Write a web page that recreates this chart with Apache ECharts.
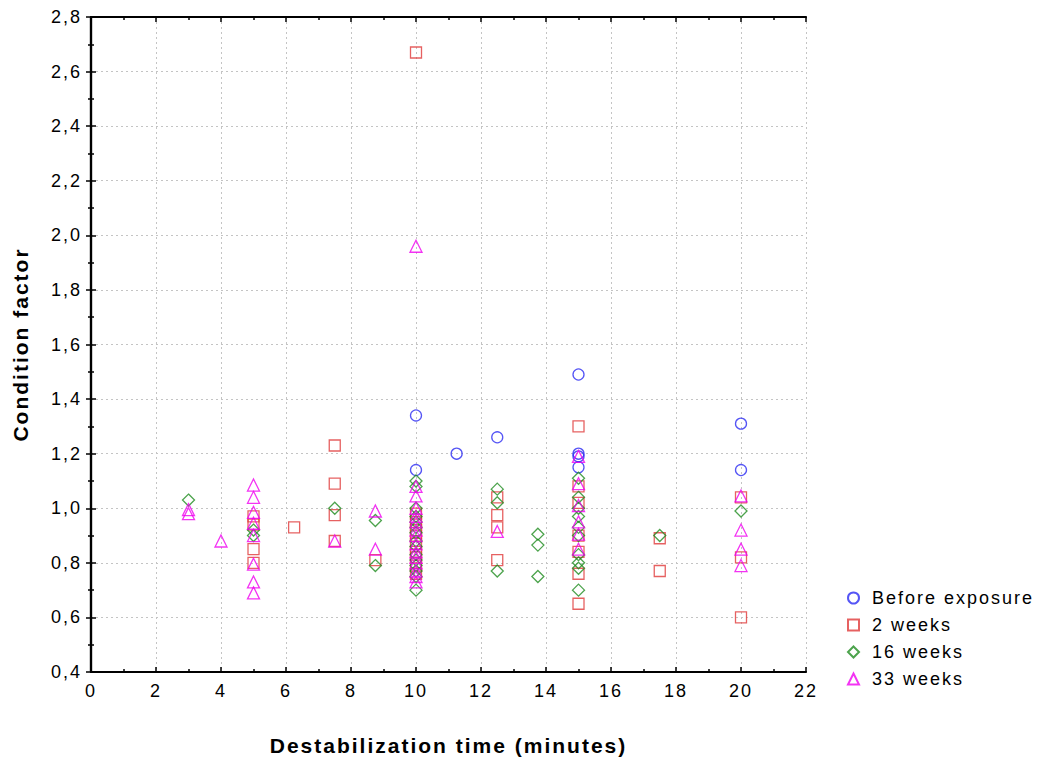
<!DOCTYPE html>
<html>
<head>
<meta charset="utf-8">
<script src="https://cdn.jsdelivr.net/npm/echarts@6/dist/echarts.min.js"></script>
<style>
  html, body { margin: 0; padding: 0; background: #fff; }
  #chart { width: 1042px; height: 767px; }
  /* widened glyph spacing for all chart text */
  #chart svg text { letter-spacing: 2px; }
</style>
</head>
<body>
<div id="chart"></div>
<script>
// Condition factor against destabilization time, four sampling groups
const seriesNames = ['Before exposure', '2 weeks', '16 weeks', '33 weeks'];

const beforeExposure = [
  [10, 1.34], [10, 1.14], [11.25, 1.20], [12.5, 1.26],
  [15, 1.49], [15, 1.20], [15, 1.19], [15, 1.15],
  [20, 1.31], [20, 1.14]
];

const weeks2 = [
  [5, 0.97], [5, 0.94], [5, 0.85], [5, 0.80], [6.25, 0.93],
  [7.5, 1.23], [7.5, 1.09], [7.5, 0.975], [7.5, 0.88], [8.75, 0.81],
  [10, 2.67], [10, 0.98], [10, 0.95], [10, 0.92], [10, 0.90], [10, 0.87],
  [10, 0.84], [10, 0.82], [10, 0.79], [10, 0.76],
  [12.5, 1.04], [12.5, 0.975], [12.5, 0.93], [12.5, 0.81],
  [15, 1.30], [15, 1.08], [15, 1.02], [15, 0.90], [15, 0.84], [15, 0.76], [15, 0.65],
  [17.5, 0.89], [17.5, 0.77],
  [20, 1.04], [20, 0.82], [20, 0.60]
];

const weeks16 = [
  [3, 1.03], [5, 0.92], [5, 0.90], [7.5, 1.00], [8.75, 0.955], [8.75, 0.79],
  [10, 1.10], [10, 1.08], [10, 1.00], [10, 0.97], [10, 0.95], [10, 0.93], [10, 0.91],
  [10, 0.88], [10, 0.86], [10, 0.83], [10, 0.81], [10, 0.79], [10, 0.77], [10, 0.75], [10, 0.70],
  [12.5, 1.07], [12.5, 1.02], [12.5, 0.77],
  [13.75, 0.905], [13.75, 0.865], [13.75, 0.75],
  [15, 1.11], [15, 1.04], [15, 1.00], [15, 0.97], [15, 0.93], [15, 0.90],
  [15, 0.83], [15, 0.80], [15, 0.78], [15, 0.70],
  [17.5, 0.90], [20, 0.99]
];

const weeks33 = [
  [3, 0.995], [3, 0.98], [4, 0.88],
  [5, 1.085], [5, 1.04], [5, 0.985], [5, 0.945], [5, 0.90], [5, 0.795], [5, 0.73], [5, 0.69],
  [7.5, 0.88], [8.75, 0.99], [8.75, 0.85],
  [10, 1.96], [10, 1.08], [10, 1.045], [10, 1.00], [10, 0.97], [10, 0.95], [10, 0.92],
  [10, 0.90], [10, 0.87], [10, 0.84], [10, 0.82], [10, 0.80], [10, 0.77], [10, 0.75], [10, 0.73],
  [12.5, 0.915],
  [15, 1.19], [15, 1.09], [15, 1.01], [15, 0.95], [15, 0.905], [15, 0.85],
  [20, 1.045], [20, 0.92], [20, 0.85], [20, 0.79]
];

const xRange = { min: 0, max: 22, interval: 2 };
const yRange = { min: 0.4, max: 2.8, interval: 0.2 };

const groups = [beforeExposure, weeks2, weeks16, weeks33];
const symbols = ['circle', 'rect', 'diamond', 'triangle'];
const colors = ['#2a2af2', '#e03a3a', '#1f8c1f', '#f000f0'];
const sizes = [11, 11, 12, 12];

const FONT = 'Liberation Sans, Arial, sans-serif';

const chart = echarts.init(document.getElementById('chart'), null, { renderer: 'svg' });

const frameLine = { show: true, lineStyle: { color: '#000', width: 2.2 } };
const inTick = { show: true, inside: true, length: 5, lineStyle: { color: '#000', width: 1.5 } };
const inMinor = { show: true, splitNumber: 2, length: 3, lineStyle: { color: '#000', width: 1.5 } };
const gridLines = { show: true, lineStyle: { color: '#c4c4c4', type: [2, 3], width: 1 } };

chart.setOption({
  backgroundColor: '#fff',
  animation: false,
  grid: { left: 91, right: 236, top: 17, bottom: 95 },
  legend: {
    orient: 'vertical',
    left: 842,
    top: 584,
    itemWidth: 11,
    itemHeight: 11,
    itemGap: 9,
    textStyle: { fontFamily: FONT, fontSize: 18, color: '#000', padding: [0, 0, 0, 8] },
    data: seriesNames
  },
  xAxis: [
    {
      type: 'value', position: 'bottom', ...xRange,
      name: 'Destabilization time (minutes)',
      nameLocation: 'middle', nameGap: 63,
      nameTextStyle: { fontFamily: FONT, fontSize: 21, fontWeight: 'bold', color: '#000' },
      axisLine: frameLine, axisTick: inTick, minorTick: inMinor,
      splitLine: gridLines,
      axisLabel: { fontFamily: FONT, fontSize: 18, color: '#000', margin: 10 }
    },
    {
      type: 'value', position: 'top', ...xRange,
      axisLine: frameLine, axisTick: inTick, minorTick: inMinor,
      splitLine: { show: false }, axisLabel: { show: false }
    }
  ],
  yAxis: [
    {
      type: 'value', position: 'left', ...yRange,
      name: 'Condition factor',
      nameLocation: 'middle', nameGap: 60, nameRotate: 90,
      nameTextStyle: { fontFamily: FONT, fontSize: 21, fontWeight: 'bold', color: '#000' },
      axisLine: frameLine, axisTick: inTick, minorTick: inMinor,
      splitLine: gridLines,
      axisLabel: {
        fontFamily: FONT, fontSize: 18, color: '#000', margin: 9,
        formatter: v => v.toFixed(1).replace('.', ',')
      }
    },
    {
      type: 'value', position: 'right', ...yRange,
      axisLine: frameLine, axisTick: inTick, minorTick: inMinor,
      splitLine: { show: false }, axisLabel: { show: false }
    }
  ],
  series: groups.map((pts, i) => ({
    name: seriesNames[i],
    type: 'scatter',
    xAxisIndex: 0,
    yAxisIndex: 0,
    symbol: symbols[i],
    symbolSize: sizes[i],
    data: pts,
    itemStyle: { color: 'rgba(0,0,0,0)', borderColor: colors[i], borderWidth: 1.3 },
    emphasis: { disabled: true }
  }))
});
</script>
</body>
</html>
